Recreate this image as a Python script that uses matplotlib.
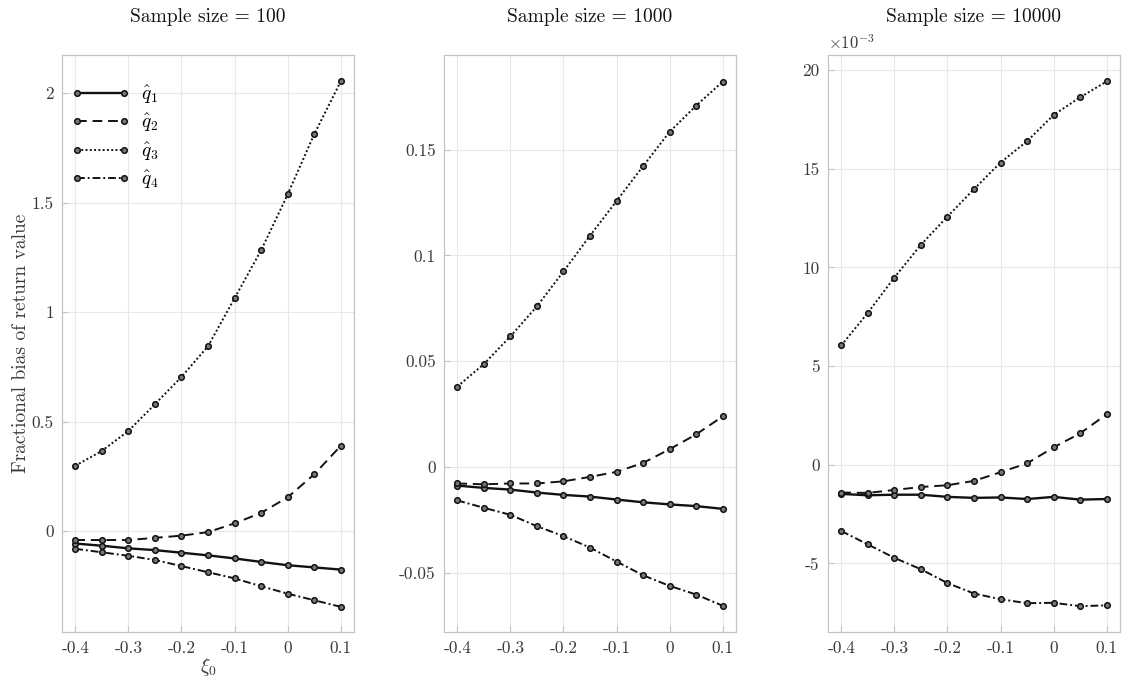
import matplotlib
matplotlib.use("Agg")
import matplotlib.pyplot as plt
from matplotlib.ticker import FuncFormatter, FixedLocator

plt.rcParams['font.family'] = ['cmr10', 'DejaVu Serif']
plt.rcParams['mathtext.fontset'] = 'cm'
plt.rcParams['axes.unicode_minus'] = False

xi0 = [-0.4, -0.35, -0.3, -0.25, -0.2, -0.15, -0.1, -0.05, 0.0, 0.05, 0.1]
sample_sizes = [100, 1000, 10000]
series_labels = [r'$\hat{q}_1$', r'$\hat{q}_2$', r'$\hat{q}_3$', r'$\hat{q}_4$']

# Sample size = 100
n100_q1 = [-0.056, -0.066, -0.078, -0.086, -0.098, -0.110, -0.124, -0.140, -0.155, -0.165, -0.175]
n100_q2 = [-0.040, -0.040, -0.040, -0.030, -0.020, -0.004, 0.036, 0.084, 0.155, 0.260, 0.390]
n100_q3 = [0.299, 0.367, 0.458, 0.580, 0.705, 0.845, 1.064, 1.283, 1.538, 1.813, 2.054]
n100_q4 = [-0.080, -0.096, -0.112, -0.131, -0.159, -0.187, -0.215, -0.251, -0.285, -0.315, -0.345]

# Sample size = 1000
n1000_q1 = [-0.0088, -0.0099, -0.0107, -0.0121, -0.0132, -0.0140, -0.0154, -0.0167, -0.0177, -0.0185, -0.0198]
n1000_q2 = [-0.0078, -0.0082, -0.0078, -0.0078, -0.0068, -0.0047, -0.0023, 0.0019, 0.0084, 0.0154, 0.0239]
n1000_q3 = [0.0380, 0.0486, 0.0617, 0.0759, 0.0924, 0.1093, 0.1257, 0.1422, 0.1584, 0.1708, 0.1821]
n1000_q4 = [-0.0158, -0.0193, -0.0226, -0.0280, -0.0327, -0.0381, -0.0447, -0.0512, -0.0562, -0.0603, -0.0656]

# Sample size = 10000
n10000_q1 = [-0.00148, -0.00155, -0.00152, -0.00152, -0.00163, -0.00168, -0.00166, -0.00174, -0.00163, -0.00177, -0.00174]
n10000_q2 = [-0.00141, -0.00143, -0.00128, -0.00113, -0.00104, -0.00082, -0.00038, 0.00007, 0.00088, 0.00159, 0.00256]
n10000_q3 = [0.00605, 0.00770, 0.00949, 0.01115, 0.01258, 0.01397, 0.01532, 0.01640, 0.01773, 0.01863, 0.01943]
n10000_q4 = [-0.00336, -0.00404, -0.00472, -0.00530, -0.00600, -0.00653, -0.00682, -0.00702, -0.00700, -0.00717, -0.00713]

panels = [
    [n100_q1, n100_q2, n100_q3, n100_q4],
    [n1000_q1, n1000_q2, n1000_q3, n1000_q4],
    [n10000_q1, n10000_q2, n10000_q3, n10000_q4],
]
ylims = [(-0.46, 2.175), (-0.078, 0.1947), (-0.00848, 0.02077)]
yticks = [[0, 0.5, 1, 1.5, 2], [-0.05, 0, 0.05, 0.1, 0.15], [-0.005, 0, 0.005, 0.01, 0.015, 0.02]]
xticks = [-0.4, -0.3, -0.2, -0.1, 0, 0.1]

styles = [dict(ls='-', lw=1.7), dict(ls=(0, (5, 3)), lw=1.4),
          dict(ls=(0, (1, 1.2)), lw=1.4), dict(ls=(0, (4, 1.5, 1, 1.5)), lw=1.4)]

W, H = 1122, 683
fig = plt.figure(figsize=(W / 100, H / 100), dpi=100)
lefts = [62, 444, 828]
aw = 292
top, bot = 55, 632

tick_color = '#3a3a3a'
for i, (left, data) in enumerate(zip(lefts, panels)):
    ax = fig.add_axes([left / W, (H - bot) / H, aw / W, (bot - top) / H])
    for s, y, lab in zip(styles, data, series_labels):
        ax.plot(xi0, y, color='#111111', marker='o', ms=4.0, mfc='#777777',
                mec='#111111', mew=1.1, label=lab, **s)
    ax.set_xlim(-0.425, 0.125)
    ax.set_ylim(*ylims[i])
    ax.xaxis.set_major_locator(FixedLocator(xticks))
    ax.yaxis.set_major_locator(FixedLocator(yticks[i]))
    ax.xaxis.set_major_formatter(FuncFormatter(lambda v, p: '%g' % round(v, 6)))
    if i == 2:
        ax.yaxis.set_major_formatter(FuncFormatter(lambda v, p: '%g' % round(v * 1e3, 6)))
        ax.text(0.0, 1.005, r'$\times10^{-3}$', transform=ax.transAxes, fontsize=12,
                color=tick_color, ha='left', va='bottom')
    else:
        ax.yaxis.set_major_formatter(FuncFormatter(lambda v, p: '%g' % round(v, 6)))
    ax.grid(True, color='#e8e8e8', lw=0.8)
    ax.set_axisbelow(True)
    for sp in ax.spines.values():
        sp.set_color('#c4c4c4')
        sp.set_linewidth(0.9)
    ax.tick_params(direction='in', length=4, width=0.8, color='#c4c4c4',
                   labelcolor=tick_color, labelsize=12.5, pad=6)
    ax.set_title('Sample size = %d' % sample_sizes[i], fontsize=14, pad=24, color='#111111')
    if i == 0:
        ax.set_ylabel('Fractional bias of return value', fontsize=14, color=tick_color, labelpad=1)
        ax.set_xlabel(r'$\xi_0$', fontsize=14, color=tick_color, labelpad=0)
        ax.legend(loc='upper left', bbox_to_anchor=(-0.022, 0.978), frameon=False,
                  fontsize=14, handlelength=3.0, handletextpad=0.6, labelspacing=0.3,
                  numpoints=2, borderaxespad=0.4)

fig.savefig('out.png', dpi=100)
